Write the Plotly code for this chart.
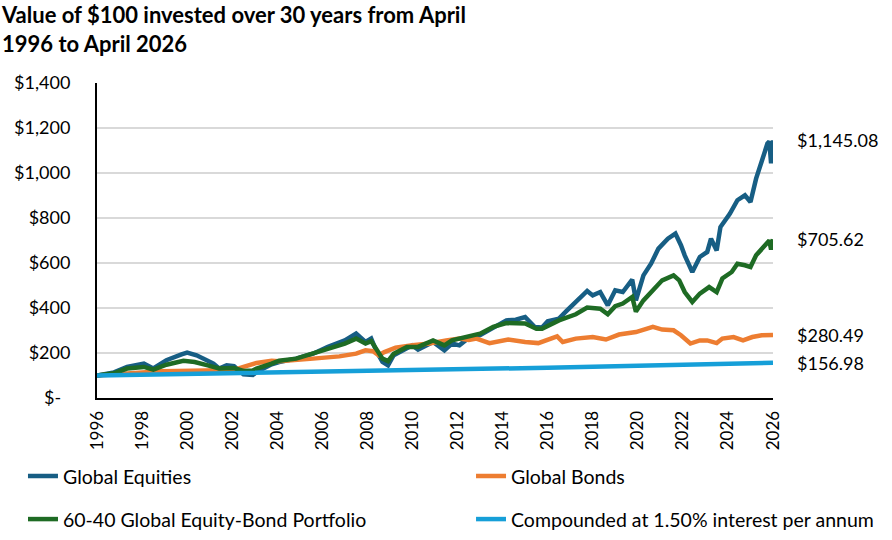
import plotly.graph_objects as go

# ---------------- data ----------------
eq_dates = ["1996-04","1997-01","1997-08","1998-05","1998-10","1999-05","2000-01","2000-04","2000-09",
            "2001-02","2001-06","2001-09","2002-01","2002-05","2002-10","2003-03","2003-05","2004-01",
            "2004-05","2005-02","2005-11","2006-07","2007-04","2007-10","2008-03","2008-06","2008-09",
            "2008-12","2009-03","2009-06","2010-01","2010-04","2010-07","2011-03","2011-09","2012-01",
            "2012-05","2012-10","2013-04","2013-11","2014-06","2014-11","2015-04","2015-09","2016-01",
            "2016-04","2016-10","2017-02","2017-07","2018-01","2018-04","2018-08","2018-12","2019-04",
            "2019-08","2020-01","2020-03","2020-07","2020-11","2021-03","2021-08","2021-12","2022-03",
            "2022-05","2022-09","2023-01","2023-05","2023-07","2023-10","2023-12","2024-05","2024-09",
            "2025-01","2025-04","2025-07","2025-10","2026-01","2026-02","2026-03","2026-04"]
eq_values = [100,114,138,153,131,168,194,202,190,
             170,153,131,145,141,105,102,116,150,
             160,175,197,227,256,286,249,264,204,
             160,145,190,224,234,215,249,212,242,
             234,268,279,313,345,348,360,316,313,
             341,353,387,427,476,456,471,412,479,
             471,526,434,545,597,664,708,731,679,
             634,560,627,649,708,656,760,819,879,
             901,871,975,1056,1131,1140,1043,1145.08]

bd_dates = ["1996-04","1997-08","1999-02","1999-11","2000-08","2001-05","2002-05","2002-10","2003-05",
            "2004-01","2004-05","2005-11","2007-01","2007-10","2008-03","2008-07","2008-10","2009-01",
            "2009-07","2010-04","2011-01","2011-10","2012-05","2012-10","2013-02","2013-09","2014-07",
            "2015-04","2015-11","2016-09","2016-12","2017-07","2018-04","2018-11","2019-06","2020-03",
            "2020-12","2021-05","2021-11","2022-03","2022-08","2023-01","2023-05","2023-10","2024-01",
            "2024-07","2024-12","2025-05","2025-10","2026-04"]
bd_values = [100,111,119,120,123,126,125,138,156,
             165,163,175,185,197,212,208,190,204,
             224,234,242,256,264,258,264,244,260,
             249,244,274,249,264,271,260,282,293,
             316,304,301,279,242,256,256,244,264,
             271,256,271,279,280.49]

pf_dates = ["1996-04","1997-01","1997-08","1998-05","1998-10","1999-05","2000-02","2000-08","2001-03",
            "2001-09","2002-05","2002-10","2003-03","2003-05","2004-01","2004-05","2005-02","2005-11",
            "2006-07","2007-04","2007-10","2008-03","2008-06","2008-09","2008-12","2009-03","2009-06",
            "2010-01","2010-07","2011-03","2011-09","2012-01","2012-05","2012-10","2013-04","2013-11",
            "2014-06","2015-04","2015-10","2016-01","2016-10","2017-07","2018-01","2018-08","2018-12",
            "2019-04","2019-08","2020-01","2020-03","2020-07","2020-12","2021-05","2021-11","2022-02",
            "2022-05","2022-09","2023-01","2023-06","2023-10","2024-01","2024-06","2024-09","2025-01",
            "2025-04","2025-07","2025-10","2026-01","2026-02","2026-03","2026-04"]
pf_values = [100,110,131,138,126,148,165,160,145,
             131,133,120,122,131,153,166,175,197,
             220,242,264,242,253,212,175,164,197,
             227,227,256,234,256,264,274,286,316,
             333,331,308,308,345,372,402,397,372,
             408,420,449,384,434,479,523,545,523,
             471,427,464,493,471,531,560,597,590,
             582,634,664,693,700,660,705.62]

cp_dates = ["1996-04","2001-04","2006-04","2011-04","2016-04","2021-04","2026-04"]
cp_values = [100,107.7,116.1,125.0,134.7,145.1,156.98]

tick_years = [str(y) for y in range(1996, 2027, 2)]
y_ticks = [0, 200, 400, 600, 800, 1000, 1200, 1400]
y_tick_text = ["$-\u00a0\u00a0", "$200", "$400", "$600", "$800", "$1,000", "$1,200", "$1,400"]

# ---------------- figure ----------------
FONT = "Lato"
series = [
    ("Global Equities", eq_dates, eq_values, "#175E84", "legend"),
    ("Global Bonds", bd_dates, bd_values, "#ED7D31", "legend2"),
    ("60-40 Global Equity-Bond Portfolio", pf_dates, pf_values, "#1E6B24", "legend3"),
    ("Compounded at 1.50% interest per annum", cp_dates, cp_values, "#169FD8", "legend4"),
]

fig = go.Figure()
for name, d, v, c, lg in series:
    fig.add_trace(go.Scatter(x=d, y=v, mode="lines", name=name, legend=lg,
                             line=dict(color=c, width=4.5)))

end_labels = [("$1,145.08", eq_dates[-1], eq_values[-1]),
              ("$705.62", pf_dates[-1], pf_values[-1]),
              ("$280.49", bd_dates[-1], bd_values[-1]),
              ("$156.98", cp_dates[-1], cp_values[-1])]
for txt, d, v in end_labels:
    fig.add_annotation(x=d, y=v, text=txt, showarrow=False, xanchor="left", yanchor="middle",
                       xshift=22, font=dict(family=FONT, size=18, color="black"))

leg_font = dict(family=FONT, size=19.5, color="black")
def leg(x, y):
    return dict(orientation="h", x=x, xanchor="left", y=y, yanchor="middle",
                font=leg_font, bgcolor="rgba(0,0,0,0)")

fig.update_layout(
    width=892, height=540,
    margin=dict(l=97, r=119, t=83, b=142, autoexpand=False),
    paper_bgcolor="white", plot_bgcolor="white",
    font=dict(family=FONT, color="black"),
    title=dict(text="<b>Value of $100 invested over 30 years from April<br>1996 to April 2026</b>",
               x=2/892, xanchor="left", xref="container",
               y=1-23/540, yanchor="top", yref="container",
               font=dict(family=FONT, size=22, color="black")),
    xaxis=dict(type="date", range=["1996-04-01", "2026-04-01"],
               tickvals=[y + "-04-01" for y in tick_years], ticktext=tick_years,
               tickangle=-90, tickfont=dict(family=FONT, size=17, color="black"),
               showgrid=False, showline=True, linecolor="black", linewidth=2,
               ticks="", ticklabelstandoff=4, zeroline=False),
    yaxis=dict(range=[0, 1400], tickvals=y_ticks, ticktext=y_tick_text,
               tickfont=dict(family=FONT, size=18, color="black"),
               showgrid=True, gridcolor="#D9D9D9", gridwidth=1.5,
               showline=True, linecolor="black", linewidth=2,
               ticks="", ticklabelstandoff=21, zeroline=False),
    showlegend=True,
    legend=leg(-0.1095, -0.2488),
    legend2=leg(0.5533, -0.2488),
    legend3=leg(-0.1095, -0.3854),
    legend4=leg(0.5533, -0.3854),
)

fig.write_html("out.html")
